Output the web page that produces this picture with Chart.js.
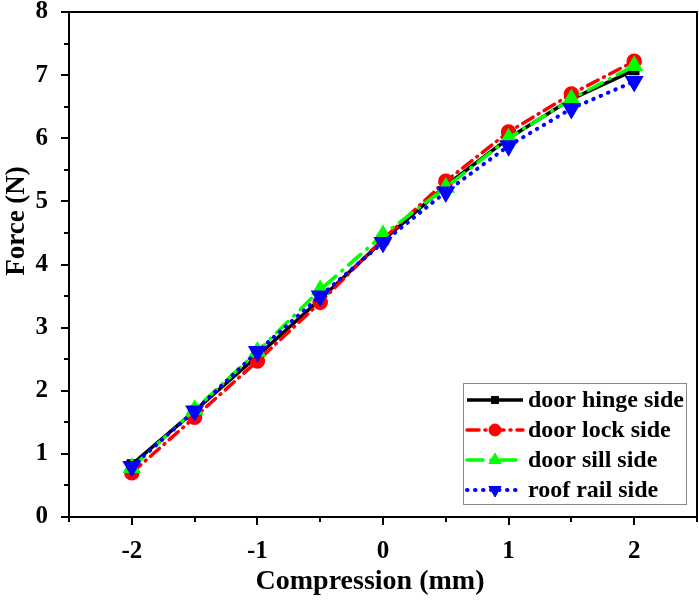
<!DOCTYPE html>
<html>
<head>
<meta charset="utf-8">
<script src="https://cdn.jsdelivr.net/npm/chart.js@4/dist/chart.umd.min.js"></script>
<style>
  html, body { margin: 0; padding: 0; background: #fff; }
  #wrap { width: 699px; height: 601px; }
</style>
</head>
<body>
<div id="wrap"><canvas id="chart" width="699" height="601"></canvas></div>
<script>
// datos
const compression = [-2, -1.5, -1, -0.5, 0, 0.5, 1, 1.5, 2];
const hingeSide = [0.83, 1.68, 2.55, 3.45, 4.38, 5.25, 6.00, 6.62, 7.08];
const lockSide  = [0.70, 1.58, 2.47, 3.40, 4.40, 5.32, 6.10, 6.70, 7.22];
const sillSide  = [0.78, 1.70, 2.62, 3.60, 4.47, 5.22, 6.00, 6.62, 7.15];
const roofSide  = [0.80, 1.68, 2.62, 3.50, 4.35, 5.15, 5.88, 6.47, 6.90];
const seriesLabels = ['door hinge side', 'door lock side', 'door sill side', 'roof rail side'];
const xTitle = 'Compression (mm)';
const yTitle = 'Force (N)';

const FONT = '"Liberation Serif", "Times New Roman", serif';

const toPoints = vals => compression.map((x, i) => ({ x: x, y: vals[i] }));

// marco, marcas, títulos y leyenda
const framePlugin = {
    id: 'frame',
    afterDraw(chart) {
        const ctx = chart.ctx;
        const a = chart.chartArea;
        const xs = chart.scales.x;
        const ys = chart.scales.y;
        ctx.save();
        ctx.strokeStyle = '#000';
        ctx.lineWidth = 2;
        ctx.strokeRect(a.left, a.top, a.right - a.left, a.bottom - a.top);

        ctx.beginPath();
        for (let v = -2.5; v <= 2.5001; v += 0.5) {
            const px = Math.round(xs.getPixelForValue(v));
            const len = Number.isInteger(v) ? 8 : 5;
            ctx.moveTo(px, a.bottom);
            ctx.lineTo(px, a.bottom + len);
        }
        for (let v = 0; v <= 8.0001; v += 0.5) {
            const py = Math.round(ys.getPixelForValue(v));
            const len = Number.isInteger(v) ? 8 : 5;
            ctx.moveTo(a.left, py);
            ctx.lineTo(a.left - len, py);
        }
        ctx.stroke();

        // títulos de los ejes
        ctx.fillStyle = '#000';
        ctx.textAlign = 'center';
        ctx.textBaseline = 'middle';
        ctx.font = 'bold 28px ' + FONT;
        ctx.fillText(xTitle, 370, 582);
        ctx.save();
        ctx.translate(17, 221);
        ctx.rotate(-Math.PI / 2);
        ctx.font = 'bold 27px ' + FONT;
        ctx.fillText(yTitle, 0, 0);
        ctx.restore();

        // leyenda dentro del área
        const box = { x: 463, y: 383, w: 223, h: 121 };
        ctx.fillStyle = '#fff';
        ctx.fillRect(box.x, box.y, box.w, box.h);
        ctx.strokeStyle = '#888';
        ctx.lineWidth = 1;
        ctx.strokeRect(box.x + 0.5, box.y + 0.5, box.w, box.h);

        chart.data.datasets.forEach((ds, i) => {
            const cy = box.y + 17 + i * 30;
            const x0 = box.x + 4, x1 = box.x + 60;
            ctx.save();
            ctx.strokeStyle = ds.borderColor;
            ctx.lineWidth = ds.borderWidth;
            ctx.lineCap = ds.borderCapStyle || 'butt';
            ctx.setLineDash(ds.borderDash || []);
            ctx.beginPath();
            ctx.moveTo(x0, cy);
            ctx.lineTo(x1, cy);
            ctx.stroke();
            ctx.restore();
            ctx.save();
            ctx.fillStyle = ds.pointBackgroundColor;
            ctx.strokeStyle = ds.pointBorderColor;
            ctx.lineWidth = 1;
            Chart.helpers.drawPoint(ctx, {
                pointStyle: ds.pointStyle,
                radius: ds.pointRadius,
                rotation: ds.pointRotation || 0,
                borderWidth: 1
            }, (x0 + x1) / 2, cy);
            ctx.restore();

            ctx.fillStyle = '#000';
            ctx.font = 'bold 24px ' + FONT;
            ctx.textBaseline = 'middle';
            ctx.textAlign = 'left';
            ctx.fillText(seriesLabels[i], box.x + 65, cy + 1);
        });
        ctx.restore();
    }
};

const ctx = document.getElementById('chart').getContext('2d');
new Chart(ctx, {
    type: 'line',
    data: {
        datasets: [
            {
                label: seriesLabels[0],
                data: toPoints(hingeSide),
                borderColor: '#000000',
                backgroundColor: '#000000',
                borderWidth: 3.5,
                pointStyle: 'rect',
                pointRadius: 5,
                pointBackgroundColor: '#000000',
                pointBorderColor: '#000000',
                order: 4
            },
            {
                label: seriesLabels[1],
                data: toPoints(lockSide),
                borderColor: '#ff0000',
                backgroundColor: '#ff0000',
                borderWidth: 3.5,
                borderDash: [12, 6, 1, 6],
                borderCapStyle: 'round',
                pointStyle: 'circle',
                pointRadius: 6,
                pointBackgroundColor: '#ff0000',
                pointBorderColor: '#ff0000',
                order: 3
            },
            {
                label: seriesLabels[2],
                data: toPoints(sillSide),
                borderColor: '#00ff00',
                backgroundColor: '#00ff00',
                borderWidth: 3.5,
                borderDash: [16, 8, 1, 8],
                borderCapStyle: 'round',
                pointStyle: 'triangle',
                pointRadius: 7,
                pointBackgroundColor: '#00ff00',
                pointBorderColor: '#00ff00',
                order: 2
            },
            {
                label: seriesLabels[3],
                data: toPoints(roofSide),
                borderColor: '#0000ff',
                backgroundColor: '#0000ff',
                borderWidth: 4,
                borderDash: [0.5, 7.5],
                borderCapStyle: 'round',
                pointStyle: 'triangle',
                pointRotation: 180,
                pointRadius: 7,
                pointBackgroundColor: '#0000ff',
                pointBorderColor: '#0000ff',
                order: 1
            }
        ]
    },
    options: {
        responsive: false,
        animation: false,
        layout: { autoPadding: false, padding: { top: 12, right: 2, left: 0, bottom: 0 } },
        plugins: {
            legend: { display: false },
            tooltip: { enabled: false }
        },
        scales: {
            x: {
                type: 'linear',
                min: -2.5,
                max: 2.5,
                grid: { display: false },
                border: { display: true, color: '#000', width: 2 },
                ticks: {
                    stepSize: 0.5,
                    padding: 12,
                    color: '#000',
                    font: { family: FONT, size: 25, weight: 'bold' },
                    callback: v => Number.isInteger(v) ? String(v) : ''
                },
                afterFit: s => { s.height = 84; s.paddingLeft = 0; s.paddingRight = 0; }
            },
            y: {
                type: 'linear',
                min: 0,
                max: 8,
                grid: { display: false },
                border: { display: true, color: '#000', width: 2 },
                ticks: {
                    stepSize: 1,
                    padding: 13,
                    color: '#000',
                    font: { family: FONT, size: 25, weight: 'bold' }
                },
                afterFit: s => { s.width = 69; s.paddingTop = 0; s.paddingBottom = 0; }
            }
        }
    },
    plugins: [framePlugin]
});
</script>
</body>
</html>
